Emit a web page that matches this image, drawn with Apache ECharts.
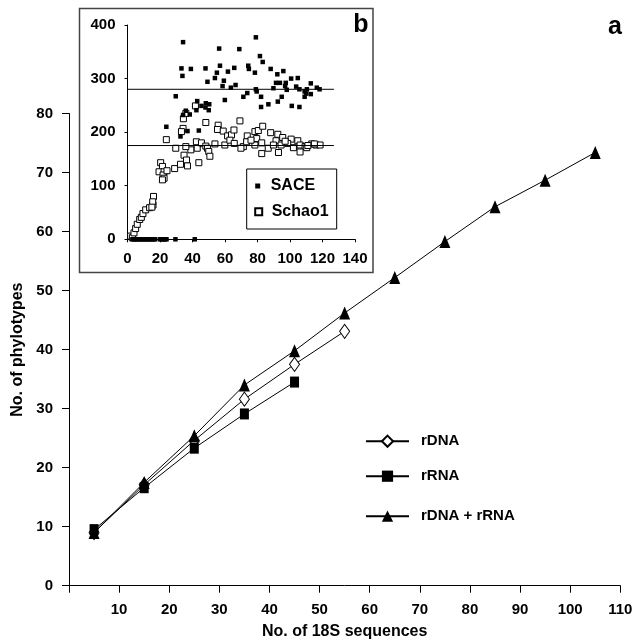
<!DOCTYPE html>
<html>
<head>
<meta charset="utf-8">
<script src="https://cdn.jsdelivr.net/npm/echarts@6/dist/echarts.min.js"></script>
<style>html,body{margin:0;padding:0;background:#fff}#c{width:637px;height:640px}</style>
</head>
<body>
<div id="c"></div>
<script>
// ---- Main chart (a) ----
var seqX = [5, 15, 25, 35, 45, 55, 65, 75, 85, 95, 105];
var rDNA = [9.0, 17.1, 24.6, 31.6, 37.5, 43.1];
var rRNA = [9.5, 16.6, 23.3, 29.1, 34.5];
var rDNArRNA = [9.0, 17.5, 25.4, 34.0, 39.8, 46.2, 52.2, 58.3, 64.2, 68.7, 73.4];

// ---- Inset (b) ----
var saceMean = 280;
var schaoMean = 175;
var meanLineX = [0, 127];
var sacePoints = [
  [3,0],[4,0],[5,0],[6,0],[7,0],[8,0],[9,0],[10,0],[11,0],[12,0],[13,0],[14,0],[15,0],[16,0],[17,0],
  [20,0],[21,0],[22,0],[23,0],[24,0],[29.5,0],[41.4,0],
  [23.9,210],[29.7,267],[32.6,192],[33.2,319],[33.8,305],[34.2,368],[34.2,232],[35.9,240],[36.9,202],
  [38.3,233],[39,318],[42.4,241],[42.9,258],[43.9,203],[45.5,249],[48,319],[48,246],[48.2,254],
  [49.2,294],[50,241],[50.3,252],[53.8,301],[55,311],[56.4,356],[56.9,324],[58.5,286],[59.3,296],
  [59.9,260],[61.8,313],[63.6,283],[65.7,320],[66.5,288],[68.8,355],[71.3,266],[73.7,273],[74.3,324],
  [74.7,318],[78.4,311],[79,377],[79,280],[79.5,276],[81.5,342],[82.2,266],[82.2,247],[83.2,331],
  [86.7,252],[88.1,318],[89.8,282],[91.4,292],[92.2,308],[92.5,257],[93.8,292],[94.9,266],[95.9,314],
  [97,286],[97.4,292],[98,279],[100.7,300],[101.1,249],[103.8,285],[104.8,301],[105.8,280],[105.8,247],
  [109,276],[109,266],[110,272],[110.4,280],[112.8,291],[112.8,271],[116.5,283],[118.2,280]
];
var schaoPoints = [
  [1.9,6],[3,3],[4,12],[5,20],[6,28],[7.5,37],[8.5,41],[9.5,48],[11.2,55],[13.6,59],[15.7,64],[16,80],
  [15.5,70],[15,60],[20.4,143],[21.5,136],[19.4,126],[22.5,126],[21.9,120],[22.5,114],[21.5,111],
  [24.3,128],[23.9,186],[29.7,170],[29,132],[32.6,140],[34.8,157],[36.3,148],[36.9,137],[39,167],
  [35.9,173],[34.2,207],[33.2,201],[34.4,225],[35.9,235],[41.8,249],[43.5,178],[43.9,143],[42.4,182],
  [42.9,170],[45.5,180],[48.2,174],[49.2,170],[50,164],[50.7,155],[48.2,218],[53.8,178],[59.9,176],
  [55.8,213],[55.4,205],[58.9,202],[61.6,193],[64,195],[65.5,204],[63,185],[65.7,179],[69.2,221],
  [71.3,173],[73.7,193],[73.3,182],[78.4,201],[80.5,203],[83.2,211],[79.5,188],[88.1,199],[92.5,196],
  [95.5,190],[91.4,184],[100.7,187],[104.8,184],[69.8,170],[78.4,176],[82.6,180],[86.6,170],[89.8,176],
  [94.5,176],[98.6,179],[102.1,171],[106.2,176],[109.3,173],[113.4,178],[116,176],[118.5,176],
  [82.6,160],[92.9,162],[106.2,163],[110.3,171],[76,185],[97,183],[111,175],[115,178]
];

function pairs(xs, ys) { return ys.map(function (y, i) { return [xs[i], y]; }); }

var FONT = '"Liberation Sans", Arial, sans-serif';
var lbl = { fontFamily: FONT, fontWeight: 'bold', fontSize: 15, color: '#000' };
var axLine = { show: true, lineStyle: { color: '#000', width: 1 } };

var chart = echarts.init(document.getElementById('c'), null, { renderer: 'canvas' });
chart.setOption({
  animation: false,
  backgroundColor: '#fff',
  graphic: { elements: [
    { type: 'rect', z: -1, shape: { x: 79.5, y: 8.5, width: 293.5, height: 264 },
      style: { fill: '#fff', stroke: '#444', lineWidth: 1.5 } },
    { type: 'rect', z: 1, shape: { x: 246.7, y: 169, width: 90, height: 60 },
      style: { fill: 'rgba(0,0,0,0)', stroke: '#000', lineWidth: 1 } },
    { type: 'text', z: 5, x: 361, y: 25.5, style: { text: 'b', font: 'bold 25px ' + FONT, fill: '#000', align: 'center', verticalAlign: 'middle' } },
    { type: 'text', z: 5, x: 615, y: 27, style: { text: 'a', font: 'bold 25px ' + FONT, fill: '#000', align: 'center', verticalAlign: 'middle' } }
  ] },
  legend: [
    { left: 365, top: 433.7, padding: 0, itemWidth: 43, itemHeight: 14, data: ['rDNA'], textStyle: Object.assign({ padding: [0, 0, 0, 7] }, lbl), z: 10 },
    { left: 365, top: 468.7, padding: 0, itemWidth: 43, itemHeight: 14, data: ['rRNA'], textStyle: Object.assign({ padding: [0, 0, 0, 7] }, lbl), z: 10 },
    { left: 365, top: 508.7, padding: 0, itemWidth: 43, itemHeight: 14, data: ['rDNA + rRNA'], textStyle: Object.assign({ padding: [0, 0, 0, 7] }, lbl), z: 10 },
    { left: 255.2, top: 178, padding: 0, itemWidth: 5, itemHeight: 5, data: ['SACE'], textStyle: Object.assign({ padding: [0, 0, 0, 5.5] }, lbl, { fontSize: 16 }), z: 10 },
    { left: 254.2, top: 203.7, padding: 0, itemWidth: 7, itemHeight: 7, data: ['Schao1'], textStyle: Object.assign({ padding: [0, 0, 0, 4.5] }, lbl, { fontSize: 16 }), z: 10 }
  ],
  grid: [
    { left: 69, right: 16.7, top: 113.5, bottom: 54.3, containLabel: false, outerBoundsMode: 'none' },
    { left: 127.5, top: 25, width: 227.5, height: 214.3, containLabel: false, outerBoundsMode: 'none' }
  ],
  xAxis: [
    { gridIndex: 0, type: 'value', min: 0, max: 110, interval: 10,
      name: 'No. of 18S sequences', nameLocation: 'middle', nameGap: 38,
      nameTextStyle: { fontFamily: FONT, fontWeight: 'bold', fontSize: 16, color: '#000' },
      axisLine: axLine, axisTick: { show: true, inside: false, length: 7, lineStyle: { color: '#000' } },
      splitLine: { show: false },
      axisLabel: Object.assign({ margin: 17, formatter: function (v) { return v === 0 ? '' : String(v); } }, lbl) },
    { gridIndex: 1, type: 'value', min: 0, max: 140, interval: 20,
      axisLine: axLine, axisTick: { show: true, inside: false, length: 3, lineStyle: { color: '#000' } },
      splitLine: { show: false },
      axisLabel: Object.assign({ margin: 12 }, lbl) }
  ],
  yAxis: [
    { gridIndex: 0, type: 'value', min: 0, max: 80, interval: 10,
      name: 'No. of phylotypes', nameLocation: 'middle', nameGap: 43,
      nameTextStyle: { fontFamily: FONT, fontWeight: 'bold', fontSize: 16, color: '#000' },
      axisLine: axLine, axisTick: { show: true, inside: false, length: 7, lineStyle: { color: '#000' } },
      splitLine: { show: false },
      axisLabel: Object.assign({ margin: 16 }, lbl) },
    { gridIndex: 1, type: 'value', min: 0, max: 400, interval: 100,
      axisLine: axLine, axisTick: { show: true, inside: false, length: 3, lineStyle: { color: '#000' } },
      splitLine: { show: false },
      axisLabel: Object.assign({ margin: 12 }, lbl) }
  ],
  series: [
    { name: 'rDNA', type: 'line', xAxisIndex: 0, yAxisIndex: 0, data: pairs(seqX, rDNA),
      symbol: 'diamond', symbolSize: [10, 14], lineStyle: { color: '#000', width: 1 },
      itemStyle: { color: '#fff', borderColor: '#000', borderWidth: 1 }, z: 3 },
    { name: 'rRNA', type: 'line', xAxisIndex: 0, yAxisIndex: 0, data: pairs(seqX, rRNA),
      symbol: 'rect', symbolSize: [9, 11], lineStyle: { color: '#000', width: 1 },
      itemStyle: { color: '#000', borderColor: '#000', borderWidth: 0 }, z: 3 },
    { name: 'rDNA + rRNA', type: 'line', xAxisIndex: 0, yAxisIndex: 0, data: pairs(seqX, rDNArRNA),
      symbol: 'triangle', symbolSize: [11, 13], lineStyle: { color: '#000', width: 1 },
      itemStyle: { color: '#000', borderColor: '#000', borderWidth: 0 }, z: 4 },
    { name: 'SACE mean', type: 'line', xAxisIndex: 1, yAxisIndex: 1, symbol: 'none',
      data: [[meanLineX[0], saceMean], [meanLineX[1], saceMean]], lineStyle: { color: '#000', width: 1 }, silent: true },
    { name: 'Schao1 mean', type: 'line', xAxisIndex: 1, yAxisIndex: 1, symbol: 'none',
      data: [[meanLineX[0], schaoMean], [meanLineX[1], schaoMean]], lineStyle: { color: '#000', width: 1 }, silent: true },
    { name: 'Schao1', type: 'scatter', xAxisIndex: 1, yAxisIndex: 1, data: schaoPoints,
      symbol: 'rect', symbolSize: 6, itemStyle: { color: '#fff', borderColor: '#000', borderWidth: 1, opacity: 1 } },
    { name: 'SACE', type: 'scatter', xAxisIndex: 1, yAxisIndex: 1, data: sacePoints,
      symbol: 'rect', symbolSize: 4.5, itemStyle: { color: '#000', opacity: 1 } }
  ]
});
</script>
</body>
</html>
